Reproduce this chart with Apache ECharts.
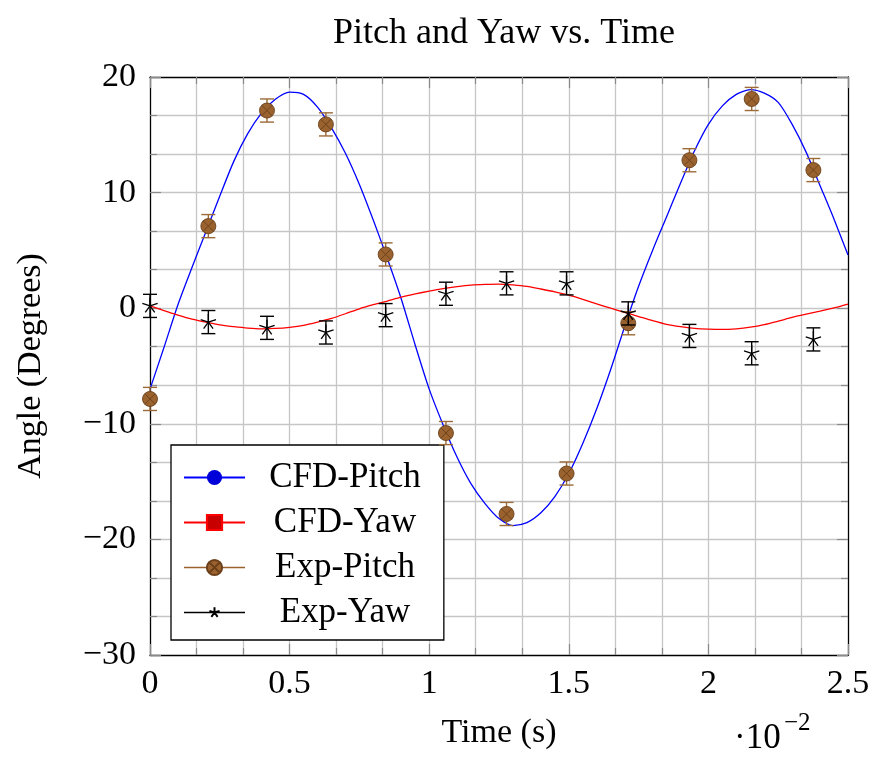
<!DOCTYPE html>
<html>
<head>
<meta charset="utf-8">
<script src="https://cdn.jsdelivr.net/npm/echarts@6/dist/echarts.min.js"></script>
<style>
  html, body { margin: 0; padding: 0; background: #fff; }
  #chart { width: 876px; height: 758px; }
</style>
</head>
<body>
<div id="chart"></div>
<script>
// time in units of 1e-2 s
var cfdTime = [0, 0.05, 0.1, 0.15, 0.2, 0.25, 0.3, 0.35, 0.4, 0.45, 0.5, 0.55, 0.6, 0.65, 0.7, 0.75, 0.8, 0.85, 0.9, 0.95,
  1, 1.05, 1.1, 1.15, 1.2, 1.25, 1.3, 1.35, 1.4, 1.45, 1.5, 1.55, 1.6, 1.65, 1.7, 1.75, 1.8, 1.85, 1.9, 1.95,
  2, 2.05, 2.1, 2.15, 2.2, 2.25, 2.3, 2.35, 2.4, 2.45, 2.5];
var cfdPitch = [-7.0, -3.4, 0.3, 3.5, 6.6, 9.7, 12.7, 15.1, 16.9, 18.1, 18.7, 18.5, 17.4, 15.6, 13.4, 10.7, 7.6, 4.3, 0.8, -3.2,
  -7.0, -10.1, -12.9, -15.2, -16.9, -18.2, -18.8, -18.55, -17.7, -16.3, -14.3, -11.7, -8.7, -5.3, -1.6, 1.9, 5.0, 7.9, 10.8, 13.6,
  15.9, 17.5, 18.5, 18.9, 18.6, 17.8, 15.9, 13.5, 10.6, 7.7, 4.6];
var cfdYaw = [0.2, -0.2, -0.6, -0.95, -1.2, -1.45, -1.6, -1.72, -1.78, -1.75, -1.65, -1.48, -1.2, -0.88, -0.48, -0.05, 0.3, 0.62, 0.95, 1.23,
  1.48, 1.7, 1.87, 2.0, 2.06, 2.09, 2.01, 1.88, 1.66, 1.42, 1.13, 0.77, 0.38, 0.0, -0.36, -0.72, -1.08, -1.4, -1.6, -1.74,
  -1.81, -1.84, -1.78, -1.64, -1.42, -1.12, -0.8, -0.52, -0.26, 0.03, 0.36];

var expTime = [0, 0.209, 0.419, 0.630, 0.844, 1.060, 1.277, 1.492, 1.713, 1.932, 2.155, 2.376];
var expPitch = [-7.85, 7.1, 17.1, 15.9, 4.65, -10.8, -17.8, -14.3, -1.3, 12.8, 18.1, 11.95];
var expPitchErr = [1, 1, 1, 1, 1, 1, 1, 1, 1, 1, 1, 1];
var expYaw = [0.2, -1.2, -1.7, -2.1, -0.6, 1.25, 2.15, 2.15, -0.45, -2.4, -3.9, -2.7];
var expYawErr = [1, 1, 1, 1, 1, 1, 1, 1, 1, 1, 1, 1];

var FONT = 'Liberation Serif';
var BROWN = '#9a622e';
var BROWN_DARK = '#6a3f1a';
var GRID_GRAY = '#c6c6c6';
var TICK_GRAY = '#8a8a8a';

// circle with a cross, and a five arm star (padded box so it stays small)
var OPLUS = 'path://M20,10A10,10,0,1,1,0,10A10,10,0,1,1,20,10ZM2.93,2.93L17.07,17.07M17.07,2.93L2.93,17.07';
var STAR = 'path://M0,0M20,20M10,10L10,3M10,10L16.66,7.84M10,10L14.11,15.66M10,10L5.89,15.66M10,10L3.34,7.84';

function pairs(xs, ys) {
  var out = [];
  for (var i = 0; i < xs.length; i++) out.push([xs[i], ys[i]]);
  return out;
}
function errData(xs, ys, es) {
  var out = [];
  for (var i = 0; i < xs.length; i++) out.push([xs[i], ys[i] - es[i], ys[i] + es[i]]);
  return out;
}
function errRenderer(color) {
  return function (params, api) {
    var lo = api.coord([api.value(0), api.value(1)]);
    var hi = api.coord([api.value(0), api.value(2)]);
    var w = 7;
    var st = { stroke: color, lineWidth: 1.4, fill: null };
    return {
      type: 'group',
      children: [
        { type: 'line', shape: { x1: lo[0], y1: lo[1], x2: hi[0], y2: hi[1] }, style: st },
        { type: 'line', shape: { x1: lo[0] - w, y1: lo[1], x2: lo[0] + w, y2: lo[1] }, style: st },
        { type: 'line', shape: { x1: hi[0] - w, y1: hi[1], x2: hi[0] + w, y2: hi[1] }, style: st }
      ]
    };
  };
}
function minusFmt(v) {
  return v < 0 ? '\u2212' + (-v) : '' + v;
}

var labelStyle = { fontFamily: FONT, fontSize: 34, color: '#000' };
var tickStyle = { color: TICK_GRAY, width: 1.2 };
var gridLine = { color: GRID_GRAY, width: 1.3 };

var option = {
  animation: false,
  backgroundColor: '#fff',
  title: {
    text: 'Pitch and Yaw vs. Time',
    left: 499,
    top: 11,
    textAlign: 'center',
    textStyle: { fontFamily: FONT, fontSize: 36, fontWeight: 'normal', color: '#000' }
  },
  grid: { left: 150, right: 28, top: 77, bottom: 103, outerBoundsMode: 'none' },
  legend: {
    orient: 'vertical',
    left: 171,
    top: 445,
    padding: [15, 23, 10, 12],
    itemGap: 10,
    itemWidth: 61,
    itemHeight: 19,
    backgroundColor: '#fff',
    borderColor: '#000',
    borderWidth: 1.3,
    borderRadius: 0,
    selectedMode: false,
    formatter: '{c|{name}}',
    textStyle: {
      fontFamily: FONT, fontSize: 35, color: '#000',
      rich: { c: { width: 190, align: 'center', fontFamily: FONT, fontSize: 35, color: '#000' } }
    },
    data: [
      { name: 'CFD-Pitch' },
      { name: 'CFD-Yaw' },
      { name: 'Exp-Pitch', lineStyle: { color: BROWN, width: 1.5, opacity: 1 } },
      { name: 'Exp-Yaw', lineStyle: { color: '#000', width: 1.5, opacity: 1 } }
    ]
  },
  xAxis: [{
    type: 'value',
    min: 0, max: 2.5, interval: 0.5,
    name: 'Time (s)',
    nameLocation: 'middle',
    nameGap: 61,
    nameTextStyle: labelStyle,
    axisLine: { show: true, onZero: false, lineStyle: { color: '#000', width: 1.3 } },
    axisTick: { show: true, inside: true, length: 11, lineStyle: tickStyle },
    minorTick: { show: true, splitNumber: 3, length: 7, lineStyle: tickStyle },
    axisLabel: { margin: 12, fontFamily: FONT, fontSize: 34, color: '#000' },
    splitLine: { show: true, showMinLine: false, showMaxLine: false, lineStyle: gridLine },
    minorSplitLine: { show: true, lineStyle: gridLine }
  }, {
    type: 'value', position: 'top',
    min: 0, max: 2.5, interval: 0.5,
    axisLine: { show: true, onZero: false, lineStyle: { color: '#000', width: 1.3 } },
    axisTick: { show: true, inside: true, length: 11, lineStyle: tickStyle },
    minorTick: { show: true, splitNumber: 3, length: 7, lineStyle: tickStyle },
    axisLabel: { show: false },
    splitLine: { show: false }
  }],
  yAxis: [{
    type: 'value',
    min: -30, max: 20, interval: 10,
    name: 'Angle (Degrees)',
    nameLocation: 'middle',
    nameRotate: 90,
    nameGap: 102,
    nameTextStyle: labelStyle,
    axisLine: { show: true, onZero: false, lineStyle: { color: '#000', width: 1.3 } },
    axisTick: { show: true, inside: true, length: 11, lineStyle: tickStyle },
    minorTick: { show: true, splitNumber: 3, length: 7, lineStyle: tickStyle },
    axisLabel: { margin: 14, fontFamily: FONT, fontSize: 34, color: '#000', formatter: minusFmt },
    splitLine: { show: true, showMinLine: false, showMaxLine: false, lineStyle: gridLine },
    minorSplitLine: { show: true, lineStyle: gridLine }
  }, {
    type: 'value', position: 'right',
    min: -30, max: 20, interval: 10,
    axisLine: { show: true, onZero: false, lineStyle: { color: '#000', width: 1.3 } },
    axisTick: { show: true, inside: true, length: 11, lineStyle: tickStyle },
    minorTick: { show: true, splitNumber: 3, length: 7, lineStyle: tickStyle },
    axisLabel: { show: false },
    splitLine: { show: false }
  }],
  series: [{
    name: 'CFD-Pitch',
    type: 'line',
    data: pairs(cfdTime, cfdPitch),
    smooth: 0.25,
    symbol: 'circle',
    showSymbol: false,
    lineStyle: { color: '#0000ff', width: 1.3 },
    itemStyle: { color: '#0000d8' },
    z: 3
  }, {
    name: 'CFD-Yaw',
    type: 'line',
    data: pairs(cfdTime, cfdYaw),
    smooth: 0.25,
    symbol: 'rect',
    showSymbol: false,
    lineStyle: { color: '#ff0000', width: 1.3 },
    itemStyle: { color: '#c80000', borderColor: '#ff0000', borderWidth: 1 },
    z: 3
  }, {
    name: 'Exp-Pitch err',
    type: 'custom',
    data: errData(expTime, expPitch, expPitchErr),
    encode: { x: 0, y: [1, 2] },
    renderItem: errRenderer('#9c6a36'),
    z: 4
  }, {
    name: 'Exp-Pitch',
    type: 'line',
    data: pairs(expTime, expPitch),
    symbol: OPLUS,
    symbolSize: 15,
    symbolKeepAspect: true,
    showSymbol: true,
    lineStyle: { opacity: 0, width: 0 },
    itemStyle: { color: BROWN, borderColor: BROWN_DARK, borderWidth: 0.9 },
    z: 5
  }, {
    name: 'Exp-Yaw err',
    type: 'custom',
    data: errData(expTime, expYaw, expYawErr),
    encode: { x: 0, y: [1, 2] },
    renderItem: errRenderer('#000'),
    z: 6
  }, {
    name: 'Exp-Yaw',
    type: 'line',
    data: pairs(expTime, expYaw),
    symbol: STAR,
    symbolSize: 23,
    symbolKeepAspect: true,
    showSymbol: true,
    lineStyle: { opacity: 0, width: 0 },
    itemStyle: { color: 'rgba(0,0,0,0)', borderColor: '#000', borderWidth: 1.3 },
    z: 7
  }],
  graphic: [{
    type: 'text',
    left: 734,
    top: 721,
    style: { text: '\u00b710', fontFamily: FONT, fontSize: 35, fill: '#000' }
  }, {
    type: 'text',
    left: 784,
    top: 711,
    style: { text: '\u22122', fontFamily: FONT, fontSize: 25, fill: '#000' }
  }]
};

var chart = echarts.init(document.getElementById('chart'), null, { renderer: 'canvas' });
chart.setOption(option);
</script>
</body>
</html>
